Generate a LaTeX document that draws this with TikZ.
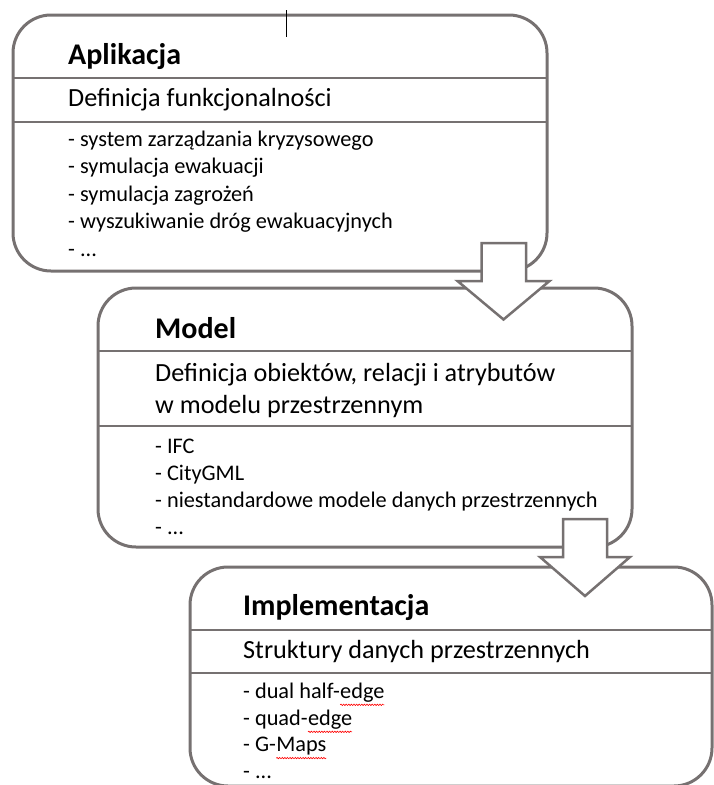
\documentclass[tikz,border=0pt]{standalone}
\usepackage{fontspec}
\setmainfont{Carlito}
\usetikzlibrary{decorations.pathmorphing}
\definecolor{bline}{RGB}{118,113,113}
\newcommand\redwave[1]{\tikz[baseline=(w.base),x=1pt,y=1pt]{\node[inner sep=0pt,outer sep=0pt,anchor=base west] (w) at (0,0) {#1};\draw[red,line width=0.6pt,decorate,decoration={snake,amplitude=0.7pt,segment length=2.6pt}] ([yshift=-3pt]w.south west) -- ([yshift=-3pt]w.south east);}}
\tikzset{
  boxshape/.style={draw=bline, line width=3pt, rounded corners=38pt, inner sep=0pt, outer sep=0pt},
  sepline/.style={draw=bline, line width=2.2pt},
  blockarrow/.style={draw=bline, line width=2.5pt, fill=white, line join=miter},
  titletxt/.style={anchor=base west, inner sep=0pt, font=\bfseries\fontsize{30}{36}\selectfont},
  bodytxt/.style={anchor=base west, inner sep=0pt, font=\fontsize{26.2}{32}\selectfont},
  listtxt/.style={anchor=base west, inner sep=0pt, font=\fontsize{22.3}{27}\selectfont},
}
\begin{document}
\begin{tikzpicture}[x=1pt,y=-1pt]
\useasboundingbox (0,0) rectangle (713,785);
% boxes
\node[boxshape, minimum width=534pt, minimum height=256pt] (appbox) at (280,143) {};
\node[boxshape, minimum width=534pt, minimum height=259pt] (modbox) at (365,417.5) {};
\node[boxshape, minimum width=522pt, minimum height=219pt] (impbox) at (451,676.5) {};
% separators
\draw[sepline] (13,78) -- (547,78);
\draw[sepline] (13,122) -- (547,122);
\draw[sepline] (98,351) -- (632,351);
\draw[sepline] (98,426) -- (632,426);
\draw[sepline] (190,630) -- (712,630);
\draw[sepline] (190,673) -- (712,673);
% box 1 texts
\node[titletxt] (t1) at (68,64) {Aplikacja};
\node[bodytxt] (d1) at (68,106) {Definicja funkcjonalności};
\node[listtxt] (l11) at (68,146) {- system zarządzania kryzysowego};
\node[listtxt] (l12) at (68,173.5) {- symulacja ewakuacji};
\node[listtxt] (l13) at (68,201) {- symulacja zagrożeń};
\node[listtxt] (l14) at (68,228.5) {- wyszukiwanie dróg ewakuacyjnych};
\node[listtxt] (l15) at (68,256) {- ...};
% box 2 texts
\node[titletxt] (t2) at (155,338) {Model};
\node[bodytxt] (d2a) at (155,381) {Definicja obiektów, relacji i atrybutów};
\node[bodytxt] (d2b) at (155,413) {w modelu przestrzennym};
\node[listtxt] (l21) at (155,453) {- IFC};
\node[listtxt] (l22) at (155,480) {- CityGML};
\node[listtxt] (l23) at (155,507) {- niestandardowe modele danych przestrzennych};
\node[listtxt] (l24) at (155,534) {- ...};
% box 3 texts
\node[titletxt] (t3) at (243,615) {Implementacja};
\node[bodytxt] (d3) at (243,658) {Struktury danych przestrzennych};
\node[listtxt] (l31) at (243,698) {- dual half-\redwave{edge}};
\node[listtxt] (l32) at (243,725) {- quad-\redwave{edge}};
\node[listtxt] (l33) at (243,751.5) {- G-\redwave{Maps}};
\node[listtxt] (l34) at (243,778) {- ...};
% block arrows
\draw[blockarrow] (481.5,243) -- (526,243) -- (526,281) -- (549.5,281) -- (503.5,319.5) -- (457.5,281) -- (481.5,281) -- cycle;
\draw[blockarrow] (563,519) -- (607,519) -- (607,557) -- (630,557) -- (585,596) -- (540,557) -- (563,557) -- cycle;
% cursor mark
\draw[black, line width=0.8pt] (286,10) -- (286,37);
\end{tikzpicture}
\end{document}
